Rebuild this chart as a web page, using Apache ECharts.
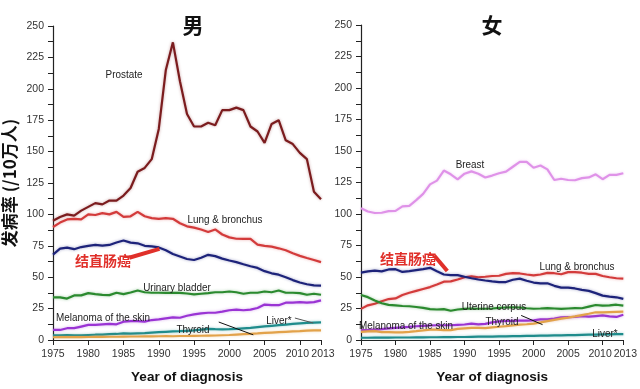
<!DOCTYPE html>
<html><head><meta charset="utf-8">
<script src="https://cdn.jsdelivr.net/npm/echarts@6/dist/echarts.min.js"></script>
<style>html,body{margin:0;padding:0;background:#fff}#c{width:640px;height:389px}</style>
</head><body><div id="c"></div>
<script>
const years = [1975,1976,1977,1978,1979,1980,1981,1982,1983,1984,1985,1986,1987,1988,1989,1990,1991,1992,1993,1994,1995,1996,1997,1998,1999,2000,2001,2002,2003,2004,2005,2006,2007,2008,2009,2010,2011,2012,2013];
const yTicks = [0,25,50,75,100,125,150,175,200,225,250];
const xTickLabels = [1975,1980,1985,1990,1995,2000,2005,2010];
const xEndLabel = [2013];

// Male
const maleProstate = [95,98,100,99,103,106,109,108,111,111,115,121,134,137,144,168,215,237,206,180,170,170,173,171,183,183,185,183,170,166,157,172,175,159,156,149,144,118,112];
const maleLung = [90,93.5,96,96.5,96,100,99.5,101,100,102,98,98.5,102,98.5,97,96.5,97,96.5,93,90.5,89.5,88,86,88,84,81.7,80.6,80.5,80.5,76,75,74.3,73,71.5,69,67,65.3,63.7,62];
const maleColorectal = [68,72.8,73.6,72.3,74,75,75.7,75.2,75.7,77.6,79.2,77.5,77,75,74.5,73.7,71.5,68.5,66.5,64.5,63.7,65.5,67.8,66.8,64.8,63.3,62,60.3,58.7,57.4,54.8,53.1,52,50,47.7,45.8,44.4,43.5,43.3];
const maleBladder = [34,34,33,35.5,35.5,37.3,36.5,36,35.7,37.6,36.5,37.8,39.4,38,37.6,37.6,37.5,37.6,37.5,37,36.3,36.8,37.3,38,38,38.6,38,36.8,37.6,37.6,38.6,38,39.4,37.6,37.6,37.3,36,36.8,36];
const maleMelanoma = [8,8,9.4,9.4,10.7,12,12,12.5,12.8,12.5,14.6,15.1,15.1,14.6,15.9,16.4,17.2,18,17.7,19.3,20.4,21.2,21.7,21.7,22.6,23.7,24.2,23.7,24.2,25.5,28.2,27.7,27.7,29.7,29.7,30.2,29.7,30.2,31.6];
const maleLiver = [3.8,3.8,4,3.8,3.8,4,4.2,4.3,4.6,4.8,5.3,5,5.2,5.4,5.8,6.2,6.5,6.8,7,7.3,7.6,8.2,8.8,8.6,8.5,8.6,8.8,9.2,9.6,10.2,10.8,11.3,11.8,12.3,12.8,13.2,13.6,13.9,14];
const maleThyroid = [2.2,2.3,2.4,2.3,2.3,2.4,2.5,2.5,2.6,2.6,2.7,2.8,2.8,2.9,2.9,3,3.1,3,3.2,3.2,3.3,3.4,3.5,3.6,3.8,4,4.3,4.6,4.9,5.2,5.6,5.9,6.2,6.5,6.8,7,7.4,7.7,7.7];

// Female
const femaleBreast = [104.5,102,100.8,101,102.3,102.5,106,106.5,111,116,123.5,126.5,134.5,131.5,127.5,132,133.8,132,129,130.5,132.3,133.6,137.5,141.4,141.4,136.7,138.5,135.4,127,128,127,126.8,128.5,129,131.5,127.6,131,131,132.3];
const femaleLung = [24.7,27.5,28.8,30.8,32.5,33,35.7,37.5,39,40.5,42,44,46.3,46.5,48,49.8,50.5,49.8,50.2,50.8,51,52.5,53,52.8,52,51.3,52,53.3,53,52.2,53.9,53.9,53.4,52.5,52.5,50.8,49.8,49,48.7];
const femaleColorectal = [53.5,54.5,55,54.5,56,56.2,54,54.7,55.5,56.3,57.3,54.5,52,51.5,51.5,50.2,49,48,47.2,46.5,46,46,47.8,48.7,47,45.6,45,45,43,41.6,41.5,40.9,39.8,39,37.2,35.2,34.4,33.9,32.6];
const femaleUterine = [35.7,34,31.3,29.2,27.9,27.5,27,26.8,26.2,25.5,24.5,24.2,24.5,23.2,24.2,24.7,25,24.8,24.8,25,25.5,25.8,26,25.8,25.2,24.8,25,25.3,25,24.7,25,25.3,25.2,26.5,27.8,27.3,27.5,28,27.3];
const femaleMelanoma = [7.8,8,8.3,8.6,9.2,9.6,10,10.4,10.9,11.2,11.5,11.7,11.7,11.7,12,12.3,13,12.4,12.8,14,14.8,15.1,15.2,15.4,15.4,15.6,16.3,16.3,17,18,18.2,18.3,19,18.5,19,19.5,18.8,18.3,20];
const femaleThyroid = [6.5,6.8,7,6.3,6.2,6.1,6.1,6.5,7,7.6,8.3,8.3,7.8,7.8,8.8,9.3,9.6,9.6,9.5,10,10.5,11,11.6,12.2,12.5,13,14,15,16,17,17.8,18.7,19.8,20.8,22,22,22.2,22.4,22.5];
const femaleLiver = [1.8,1.8,1.9,1.9,1.9,2,2,2,2.1,2.1,2.2,2.2,2.3,2.3,2.4,2.4,2.5,2.6,2.6,2.7,2.8,2.9,3,3.1,3.2,3.3,3.4,3.5,3.6,3.7,3.8,3.9,4.1,4.2,4.3,4.4,4.5,4.6,4.7];

const C = {
  prostate:'#7b1c1e', lung:'#d33b3b', colorectal:'#1d237a', green:'#2b8a2f',
  melanoma:'#9a34d4', liver:'#1f8c8c', thyroid:'#e2a24a', breast:'#df92e8'
};
const SANS = '"Liberation Sans",Arial,sans-serif';
const CJK = '"Noto Sans CJK SC","Noto Sans",sans-serif';

function pairs(arr){ return years.map((y,i)=>[y,arr[i]]); }
function ser(name, arr, color, g, extra){
  return Object.assign({
    name, type:'line', xAxisIndex:g, yAxisIndex:g, data:pairs(arr),
    symbol:'none', smooth:false, silent:true,
    lineStyle:{color, width:2.2, shadowColor:color+'66', shadowBlur:3},
    itemStyle:{color}, z:3
  }, extra||{});
}
function ml(lines){
  return {silent:true, symbol:['none','none'], label:{show:false},
    data: lines.map(l=>[{coord:l.a, lineStyle:l.s},{coord:l.b, lineStyle:l.s}])};
}

const xAx = (g)=>({
  type:'value', gridIndex:g, min:1975, max:2013, interval:5,
  axisLine:{show:true, lineStyle:{color:'#222', width:1.2}},
  axisTick:{show:true, length:5, lineStyle:{color:'#222'}, customValues:xTickLabels},
  axisLabel:{color:'#333', fontSize:10.5, fontFamily:SANS, margin:9,
    customValues:xTickLabels, showMaxLabel:true, showMinLabel:true, hideOverlap:false,
    formatter:v=> v===2010 ? '{l|2010}' : String(v),
    rich:{l:{fontSize:10.5, fontFamily:SANS, color:'#333', padding:[0,5,0,0]}}},
  splitLine:{show:false},
  name:'Year of diagnosis', nameLocation:'middle', nameGap:30,
  nameTextStyle:{fontFamily:SANS, fontWeight:'bold', fontSize:13.5, color:'#111'}
});
const xAxEnd = (g)=>({
  type:'value', gridIndex:g, min:1975, max:2013, position:'bottom', offset:0,
  axisLine:{show:false},
  axisTick:{show:true, length:5, lineStyle:{color:'#222'}, customValues:xEndLabel},
  axisLabel:{color:'#333', fontSize:10.5, fontFamily:SANS, margin:9,
    customValues:xEndLabel, showMaxLabel:true, showMinLabel:true,
    formatter:v=>'{r|'+v+'}',
    rich:{r:{fontSize:10.5, fontFamily:SANS, color:'#333', padding:[0,0,0,4]}}},
  splitLine:{show:false}
});
const yAx = (g, extra)=>Object.assign({
  type:'value', gridIndex:g, min:0, max:250, interval:25,
  axisLine:{show:true, lineStyle:{color:'#222', width:1.2}},
  axisTick:{show:true, length:5, lineStyle:{color:'#222'}},
  minorTick:{show:true, splitNumber:2, length:5, lineStyle:{color:'#222'}},
  axisLabel:{color:'#333', fontSize:10.5, fontFamily:SANS, margin:9,
    formatter:v=> yTicks.includes(v)? String(v):''},
  splitLine:{show:false}, minorSplitLine:{show:false}
}, extra||{});

const txt = (text, x, y, opts, sx)=>({type:'text', silent:true, z:10, x, y,
  scaleX: sx===undefined ? 0.86 : sx,
  style:Object.assign({
  text, x:0, y:0, textAlign:'center', textVerticalAlign:'middle', align:'center', verticalAlign:'middle',
  fill:'#222', font:'11.5px '+SANS}, opts||{})});

const redFont = 'bold 14px '+CJK;
const option = {
  animation:false, backgroundColor:'#fff',
  grid:[
    {left:51, top:26, width:270, bottom:44},
    {left:361, top:25, width:270, bottom:44}
  ],
  xAxis:[xAx(0), xAx(1), xAxEnd(0), xAxEnd(1)],
  yAxis:[
    yAx(0, {name:'发病率 (/10万人)', nameLocation:'middle', nameRotate:90, nameGap:35,
      nameTextStyle:{fontFamily:CJK, fontWeight:'bold', fontSize:17, color:'#111'}}),
    yAx(1)
  ],
  series:[
    ser('Prostate', maleProstate, C.prostate, 0),
    ser('Lung & bronchus', maleLung, C.lung, 0),
    ser('结直肠癌', maleColorectal, C.colorectal, 0, {markLine: ml([
      {a:[1998.5,14.3], b:[2003.4,4.1], s:{color:'#111', width:1, type:'solid'}},
      {a:[2009.3,17.5], b:[2011.9,13.5], s:{color:'#555', width:1, type:'solid'}},
      {a:[1985.8,65.5], b:[1990.1,72.5], s:{color:'#e0302a', width:4, type:'solid'}}
    ])}),
    ser('Urinary bladder', maleBladder, C.green, 0),
    ser('Melanoma of the skin', maleMelanoma, C.melanoma, 0),
    ser('Liver*', maleLiver, C.liver, 0),
    ser('Thyroid', maleThyroid, C.thyroid, 0),

    ser('Breast', femaleBreast, C.breast, 1),
    ser('Lung & bronchus', femaleLung, C.lung, 1),
    ser('结直肠癌', femaleColorectal, C.colorectal, 1, {markLine: ml([
      {a:[1998.2,19.5], b:[2001.3,12.2], s:{color:'#111', width:1, type:'solid'}},
      {a:[1985.6,67], b:[1987.5,54.7], s:{color:'#e0302a', width:4, type:'solid'}}
    ])}),
    ser('Uterine corpus', femaleUterine, C.green, 1),
    ser('Melanoma of the skin', femaleMelanoma, C.melanoma, 1),
    ser('Thyroid', femaleThyroid, C.thyroid, 1),
    ser('Liver*', femaleLiver, C.liver, 1)
  ],
  graphic:[
    txt('男', 193, 25, {font:'bold 21px '+CJK, fill:'#111'}, 1),
    txt('女', 492, 25, {font:'bold 21px '+CJK, fill:'#111'}, 1),
    txt('Prostate', 124, 75),
    txt('Lung & bronchus', 225, 220),
    txt('结直肠癌', 103, 261, {font:redFont, fill:'#e0302a'}, 1),
    txt('Urinary bladder', 177, 288),
    txt('Melanoma of the skin', 103, 318),
    txt('Thyroid', 193, 330),
    txt('Liver*', 279, 321),
    txt('Breast', 470, 165),
    txt('结直肠癌', 408, 259, {font:redFont, fill:'#e0302a'}, 1),
    txt('Lung & bronchus', 577, 267),
    txt('Uterine corpus', 494, 307),
    txt('Melanoma of the skin', 406, 326),
    txt('Thyroid', 502, 322),
    txt('Liver*', 605, 334)
  ]
};
const chart = echarts.init(document.getElementById('c'), null, {renderer:'canvas'});
chart.setOption(option);
</script></body></html>
